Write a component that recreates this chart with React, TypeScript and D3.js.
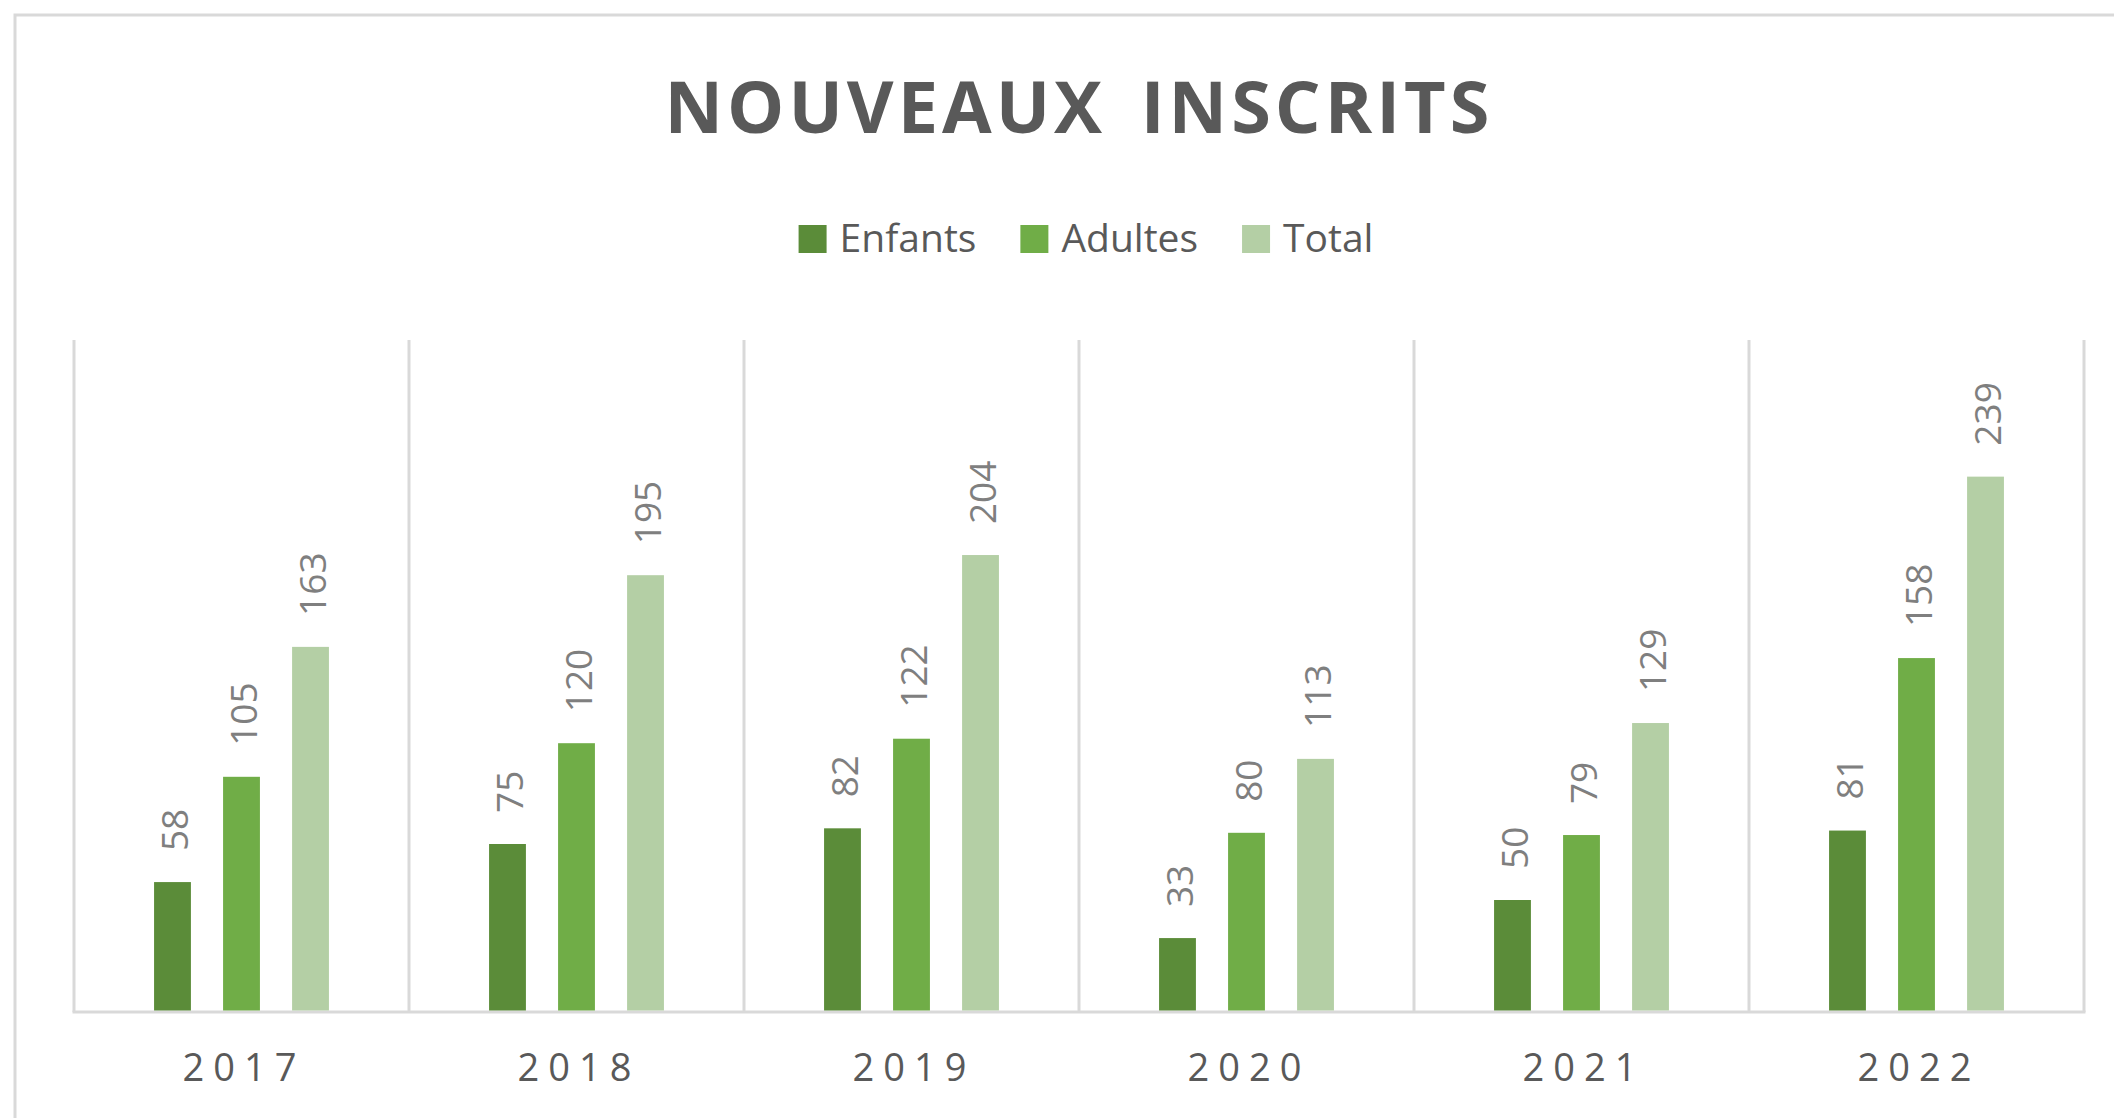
import React, { useEffect, useRef } from "react";
import * as d3 from "d3";

const years = ["2017", "2018", "2019", "2020", "2021", "2022"];
const enfants = [58, 75, 82, 33, 50, 81];
const adultes = [105, 120, 122, 80, 79, 158];
const total = [163, 195, 204, 113, 129, 239];
const seriesNames = ["Enfants", "Adultes", "Total"];
const seriesColors = ["#5B8C39", "#70AD47", "#B4CFA5"];
const titleText = "NOUVEAUX INSCRITS";
const yMax = 300;

const W = 2114;
const H = 1118;
const FONT = "'Open Sans', 'Noto Sans', sans-serif";

export default function App() {
  const ref = useRef<SVGSVGElement | null>(null);

  useEffect(() => {
    const svg = d3.select(ref.current);
    svg.selectAll("*").remove();

    const plotLeft = 74;
    const plotRight = 2084;
    const plotTop = 340;
    const plotBottom = 1012;

    // outer chart border
    svg
      .append("rect")
      .attr("x", 15)
      .attr("y", 15)
      .attr("width", 2300)
      .attr("height", 1300)
      .attr("fill", "#ffffff")
      .attr("stroke", "#D9D9D9")
      .attr("stroke-width", 3);

    const x = d3.scaleBand<string>().domain(years).range([plotLeft, plotRight]).padding(0);
    const y = d3.scaleLinear().domain([0, yMax]).range([plotBottom, plotTop]);
    const cw = x.bandwidth();
    const barW = cw * 0.11;
    const step = cw * 0.206;

    // vertical gridlines at category boundaries
    const bounds = years.map((yr) => x(yr) as number).concat([plotRight]);
    svg
      .append("g")
      .selectAll("line")
      .data(bounds)
      .join("line")
      .attr("x1", (d) => d)
      .attr("x2", (d) => d)
      .attr("y1", plotTop)
      .attr("y2", plotBottom)
      .attr("stroke", "#D9D9D9")
      .attr("stroke-width", 3);

    // baseline
    svg
      .append("line")
      .attr("x1", plotLeft - 1.5)
      .attr("x2", plotRight + 1.5)
      .attr("y1", plotBottom)
      .attr("y2", plotBottom)
      .attr("stroke", "#D9D9D9")
      .attr("stroke-width", 3);

    const series = [enfants, adultes, total];
    series.forEach((vals, si) => {
      const g = svg.append("g");
      const data = years.map((yr, i) => ({ yr, v: vals[i] }));
      const cx = (d: { yr: string }) => (x(d.yr) as number) + cw / 2 + (si - 1) * step;
      g.selectAll("rect")
        .data(data)
        .join("rect")
        .attr("x", (d) => cx(d) - barW / 2)
        .attr("width", barW)
        .attr("y", (d) => y(d.v))
        .attr("height", (d) => plotBottom - y(d.v) - 1.5)
        .attr("fill", seriesColors[si]);
      g.selectAll("text")
        .data(data)
        .join("text")
        .attr("transform", (d) => `translate(${cx(d) + 1},${y(d.v) - 31}) rotate(-90)`)
        .attr("text-anchor", "start")
        .attr("dominant-baseline", "central")
        .attr("font-family", FONT)
        .attr("font-size", 37)
        .attr("fill", "#7F7F7F")
        .text((d) => String(d.v));
    });

    // x axis labels
    const ls = 9;
    svg
      .append("g")
      .selectAll("text")
      .data(years)
      .join("text")
      .attr("x", (d) => (x(d) as number) + cw / 2 + ls / 2 - 2)
      .attr("y", 1081)
      .attr("text-anchor", "middle")
      .attr("font-family", FONT)
      .attr("font-size", 38)
      .attr("letter-spacing", ls)
      .attr("fill", "#595959")
      .text((d) => d);

    // title
    svg
      .append("text")
      .attr("x", 1077 + 2)
      .attr("y", 133)
      .attr("text-anchor", "middle")
      .attr("font-family", FONT)
      .attr("font-weight", 700)
      .attr("font-size", 72)
      .attr("letter-spacing", 4)
      .attr("word-spacing", 12)
      .attr("fill", "#595959")
      .text(titleText);

    // legend
    const lg = svg.append("g");
    const sq = 28;
    const items = seriesNames.map((name, i) => {
      const t = lg
        .append("text")
        .attr("y", 252)
        .attr("font-family", FONT)
        .attr("font-size", 39)
        .attr("fill", "#595959")
        .text(name);
      const w = (t.node() as SVGTextElement).getComputedTextLength();
      return { t, w, i };
    });
    const gapText = 13;
    const gapItem = 44;
    const totalW = items.reduce((a, it) => a + sq + gapText + it.w, 0) + gapItem * (items.length - 1);
    let cur = 1086 - totalW / 2;
    items.forEach((it) => {
      lg.append("rect")
        .attr("x", cur)
        .attr("y", 225)
        .attr("width", sq)
        .attr("height", sq)
        .attr("fill", seriesColors[it.i]);
      it.t.attr("x", cur + sq + gapText);
      cur += sq + gapText + it.w + gapItem;
    });
  }, []);

  return (
    <svg
      ref={ref}
      width={W}
      height={H}
      style={{ position: "absolute", left: 0, top: 0, background: "#ffffff" }}
    />
  );
}
